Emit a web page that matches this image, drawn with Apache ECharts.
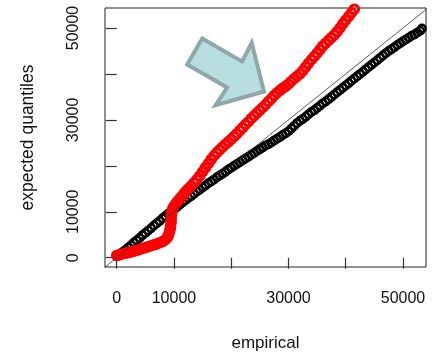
<!DOCTYPE html>
<html><head><meta charset="utf-8">
<script src="https://cdn.jsdelivr.net/npm/echarts@6/dist/echarts.min.js"></script>
<style>html,body{margin:0;padding:0;background:#fff}#c{width:434px;height:358px}</style>
</head><body><div id="c"></div>
<script>
const xTicks = [0, 10000, 20000, 30000, 40000, 50000];
const xTickLabels = [0, 10000, 30000, 50000];
const yTicks = [0, 10000, 20000, 30000, 40000, 50000];
const yTickLabels = [0, 10000, 30000, 50000];
const xTitle = 'empirical';
const yTitle = 'expected quantiles';

const blackX = [0,500,1000,1500,2000,2500,3000,3500,4000,4500,5000,5500,6000,6500,7000,7500,8000,8500,9000,9500,10000,10500,11000,11500,12000,12500,13000,13500,14000,14500,15000,15500,16000,16500,17000,17500,18000,18500,19000,19500,20000,20500,21000,21500,22000,22500,23000,23500,24000,24500,25000,25500,26000,26500,27000,27500,28000,28500,29000,29500,30000,30500,31000,31500,32000,32500,33000,33500,34000,34500,35000,35500,36000,36500,37000,37500,38000,38500,39000,39500,40000,40500,41000,41500,42000,42500,43000,43500,44000,44500,45000,45500,46000,46500,47000,47500,48000,48500,49000,49500,50000,50500,51000,51500,52000,52500,53000,53300];
const blackY = [300,700,1200,1700,2200,2700,3300,3800,4300,4900,5400,5900,6400,7000,7500,8000,8600,9100,9600,10000,10500,11000,11500,12000,12500,13000,13400,13900,14400,14800,15300,15700,16200,16600,17000,17500,17900,18300,18700,19200,19600,20000,20400,20800,21200,21600,22000,22400,22800,23200,23600,24000,24400,24700,25100,25500,25900,26300,26700,27100,27500,28100,28700,29300,29800,30200,30700,31200,31700,32100,32600,33100,33600,34000,34500,35000,35500,36000,36500,37000,37500,38000,38500,39000,39500,40000,40500,41000,41500,42000,42500,43000,43500,44000,44500,45000,45400,45800,46300,46700,47100,47500,47900,48300,48600,49000,49400,49900];

const redX = [0,500,1000,1500,2000,2500,3000,3500,4000,4500,5000,5500,6000,6500,7000,7500,8000,8500,8800,9000,9150,9250,9350,9400,9450,9500,9500,9500,9550,9600,9700,9850,10000,10300,10600,11000,11400,11800,12200,12600,13000,13500,14000,14500,15000,15500,16000,16500,17000,17500,18000,18500,19000,19500,20000,20500,21000,21500,22000,22500,23000,23500,24000,24500,25000,25500,26000,26500,27000,27500,28000,28500,29000,29500,30000,30500,31000,31500,32000,32500,33000,33500,34000,34500,35000,35500,36000,36500,37000,37500,38000,38500,39000,39500,40000,40500,41000,41500,42000,42500];
const redY = [500,650,800,950,1100,1250,1400,1600,1800,2000,2200,2400,2600,2800,3000,3250,3500,3900,4300,4800,5300,5800,6300,6800,7300,7800,8300,8800,9300,9800,10300,10800,11200,11700,12200,12800,13400,14000,14600,15100,15600,16300,17000,17800,18700,19600,20500,21400,22200,22900,23500,24100,24700,25200,25800,26400,27000,27700,28300,29000,29600,30300,30900,31500,32100,32700,33300,34000,34600,35300,35900,36400,36900,37300,37800,38400,39000,39500,40000,40700,41500,42300,43100,43800,44500,45300,46100,46700,47300,47900,48500,49200,50000,50900,51700,52500,53300,54100,54900,55700];

const diagX = [-10000, 70000];
const diagY = [-10000, 70000];

const zip = (a, b) => a.map((v, i) => [v, b[i]]);
const font = '"Liberation Sans", Arial, sans-serif';
const plain = v => String(v);

const chart = echarts.init(document.getElementById('c'), null, {renderer: 'canvas'});
chart.setOption({
  animation: false,
  backgroundColor: '#fff',
  grid: {left: 105, top: 8, right: 8, bottom: 91, show: true, borderColor: '#222', borderWidth: 1, backgroundColor: 'transparent'},
  xAxis: {
    type: 'value', min: -2043, max: 54017,
    axisLine: {show: false},
    splitLine: {show: false},
    axisTick: {show: true, inside: false, length: 11, customValues: xTicks, lineStyle: {color: '#333', width: 1.2}},
    axisLabel: {customValues: xTickLabels, formatter: plain, margin: 24, fontFamily: font, fontSize: 16, color: '#111'},
    name: xTitle, nameLocation: 'middle', nameGap: 68,
    nameTextStyle: {fontFamily: font, fontSize: 17, color: '#111'}
  },
  yAxis: {
    type: 'value', min: -2024, max: 54353,
    axisLine: {show: false},
    splitLine: {show: false},
    axisTick: {show: true, inside: false, length: 11, customValues: yTicks, lineStyle: {color: '#333', width: 1.2}},
    axisLabel: {customValues: yTickLabels, formatter: plain, rotate: 90, margin: 23, fontFamily: font, fontSize: 16, color: '#111'},
    name: yTitle, nameLocation: 'middle', nameGap: 68, nameRotate: 90,
    nameTextStyle: {fontFamily: font, fontSize: 17.5, color: '#111'}
  },
  series: [
    {type: 'scatter', data: zip(blackX, blackY), symbol: 'circle', symbolSize: 7.5,
     itemStyle: {color: 'rgba(0,0,0,0)', borderColor: '#000', borderWidth: 2.4, opacity: 1}, clip: true, z: 2},
    {type: 'scatter', data: zip(redX, redY), symbol: 'circle', symbolSize: 8.5,
     itemStyle: {color: 'rgba(255,0,0,0)', borderColor: '#ff0000', borderWidth: 3, opacity: 1}, clip: true, z: 3},
    {type: 'line', data: zip(diagX, diagY), symbol: 'none', clip: true,
     lineStyle: {color: '#333', width: 0.8}, z: 4}
  ],
  graphic: [{
    type: 'polygon', z: 10,
    shape: {points: [[202.2,38.5],[242.1,61.5],[251.7,42.8],[264,91.5],[215.7,105.2],[227.1,87.5],[187.2,64.5]]},
    style: {fill: '#b8dee0', stroke: '#8fa9a8', lineWidth: 4, lineJoin: 'miter'}
  }]
});
</script></body></html>
